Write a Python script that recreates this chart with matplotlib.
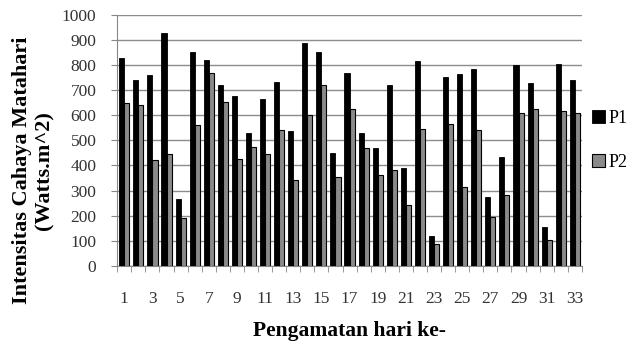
import matplotlib
matplotlib.use("Agg")
import matplotlib.pyplot as plt
import numpy as np

# pengamatan hari ke-1 .. 33
hari = list(range(1, 34))
p1 = [827, 741, 761, 927, 267, 854, 821, 721, 677, 529, 665,
      734, 539, 887, 854, 451, 770, 531, 469, 721, 389, 817,
      120, 754, 765, 783, 276, 435, 801, 730, 153, 805, 741]
p2 = [648, 641, 422, 446, 191, 562, 770, 651, 426, 475, 446,
      542, 343, 602, 721, 356, 624, 469, 363, 380, 243, 545,
      88, 566, 316, 542, 196, 283, 608, 625, 104, 615, 608]

plt.rcParams['font.family'] = ['Liberation Serif', 'DejaVu Serif']

fig = plt.figure(figsize=(6.27, 3.54), dpi=100)
ax = fig.add_axes([0.187, 0.249, 0.741, 0.709])

x = np.arange(len(hari))
w = 0.36
ax.bar(x - w / 2, p1, width=w, color='black', edgecolor='black', linewidth=0.6, label='P1', zorder=3)
ax.bar(x + w / 2, p2, width=w, color='#8a8a8a', edgecolor='black', linewidth=0.8, label='P2', zorder=3)

ax.set_xlim(-0.5, len(hari) - 0.5)
ax.set_ylim(0, 1000)
ax.set_yticks(range(0, 1001, 100))
ax.set_xticks(x[::2])
ax.set_xticklabels([str(h) for h in hari[::2]])
ax.set_xticks(np.arange(-0.5, len(hari), 1), minor=True)
ax.tick_params(axis='x', which='major', length=0, pad=18, labelsize=12.5, colors='#333333')
ax.tick_params(axis='x', which='minor', length=4, color='#888888', direction='out')
ax.tick_params(axis='y', length=4, pad=11, color='#888888', labelsize=12.5, colors='#333333')

ax.yaxis.grid(True, color='#8c8c8c', linewidth=1.0, zorder=0)
ax.set_axisbelow(True)
for s in ['top', 'right']:
    ax.spines[s].set_visible(False)
ax.spines['left'].set_color('#888888')
ax.spines['bottom'].set_color('#888888')

ax.set_xlabel('Pengamatan hari ke-', fontsize=15.5, fontweight='bold', labelpad=10)
ax.set_ylabel('Intensitas Cahaya Matahari\n(Watts.m^2)', fontsize=16, fontweight='bold')
ax.yaxis.set_label_coords(-0.135, 0.38)

ax.legend(loc='center left', bbox_to_anchor=(0.995, 0.50), frameon=False,
          fontsize=13, handlelength=0.7, handleheight=0.7, handletextpad=0.2,
          labelspacing=1.5, borderaxespad=0.3)

fig.savefig('out.png', dpi=100)
